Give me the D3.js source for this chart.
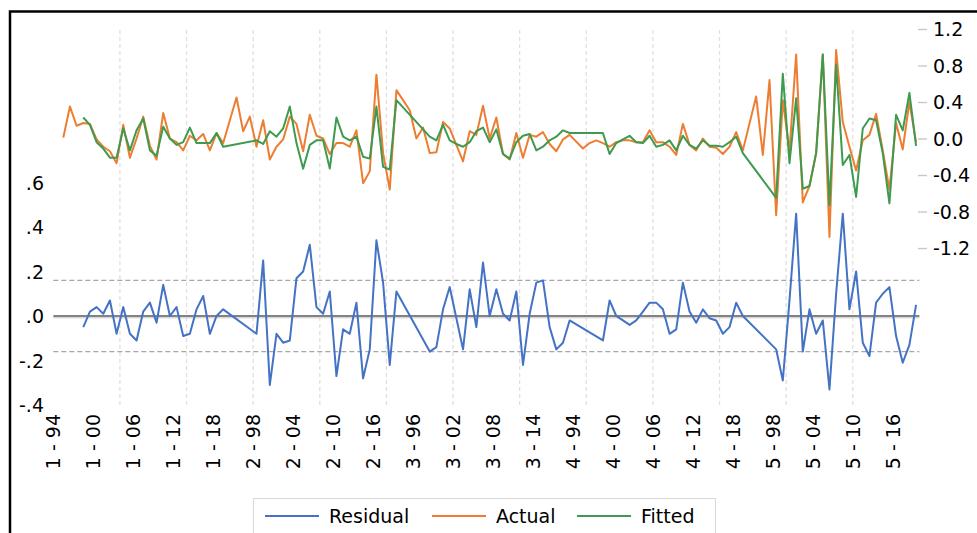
<!DOCTYPE html>
<html>
<head>
<meta charset="utf-8">
<script src="https://cdn.jsdelivr.net/npm/d3@7"></script>
<style>
body { margin: 0; background: #fff; }
svg { display: block; font-family: "DejaVu Sans", sans-serif; }
</style>
</head>
<body>
<script>
const w = 977;
const h = 533;

// panel: 5 cross-sections, years 1994-2019
const groups = ["1", "2", "3", "4", "5"];
const years = ["94","95","96","97","98","99","00","01","02","03","04","05","06",
               "07","08","09","10","11","12","13","14","15","16","17","18","19"];

const actual = [
  null, 0.01, 0.35, 0.14, 0.17, 0.16, -0.01, -0.09, -0.14, -0.27,
  0.15, -0.21, 0.00, 0.24, -0.08, -0.23, 0.28, 0.00, -0.04, -0.13,
  0.03, -0.02, 0.05, -0.13, 0.06, -0.05,
  null, 0.45, 0.08, 0.24, -0.09, 0.20, -0.23, -0.09, -0.01, 0.24,
  0.16, -0.14, 0.26, 0.03, 0.00, -0.17, -0.05, -0.05, -0.09, 0.09,
  -0.49, -0.36, 0.70, -0.16, -0.56, 0.53,
  null, 0.31, 0.00, 0.12, -0.16, -0.15, 0.18, 0.11, -0.07, -0.25,
  0.08, 0.04, 0.36, 0.00, 0.23, -0.17, -0.23, 0.06, -0.21, 0.04,
  0.02, 0.07, -0.06, -0.14, -0.01, 0.04,
  null, -0.11, -0.05, -0.02, -0.05, -0.09, -0.04, -0.02, -0.02, -0.04,
  -0.04, 0.09, -0.04, -0.04, -0.09, -0.18, 0.16, -0.07, -0.13, 0.00,
  -0.09, -0.10, -0.17, -0.09, 0.07, -0.13,
  null, 0.46, -0.18, 0.64, -0.84, 0.42, -0.14, 0.92, -0.70, -0.52,
  -0.16, 0.92, -1.08, 0.97, 0.18, -0.09, -0.35, -0.02, 0.04, 0.27,
  -0.13, -0.56, 0.17, -0.12, 0.40, -0.04
];

const fitted = [
  null, null, null, null, 0.23, 0.15, -0.04, -0.11, -0.21, -0.21,
  0.11, -0.13, 0.09, 0.22, -0.13, -0.19, 0.13, 0.00, -0.07, -0.04,
  0.12, -0.05, -0.05, -0.05, 0.06, -0.09,
  null, null, null, null, -0.02, -0.06, 0.08, 0.02, 0.11, 0.35,
  -0.05, -0.33, -0.07, -0.02, -0.02, -0.33, 0.23, 0.02, -0.02, 0.02,
  -0.20, -0.22, 0.35, -0.31, -0.34, 0.42,
  null, null, null, null, 0.02, -0.02, 0.15, -0.02, -0.06, -0.09,
  -0.04, 0.08, 0.12, -0.04, 0.10, -0.17, -0.22, -0.04, 0.03, 0.05,
  -0.13, -0.09, -0.02, 0.02, 0.09, 0.06,
  null, null, null, null, 0.06, -0.17, -0.05, -0.01, 0.03, -0.04,
  -0.05, 0.03, -0.09, -0.07, -0.02, -0.13, 0.03, -0.07, -0.11, -0.02,
  -0.08, -0.08, -0.09, -0.04, 0.02, -0.16,
  null, null, null, null, -0.65, 0.71, -0.27, 0.44, -0.55, -0.52,
  -0.16, 0.92, -0.73, 0.81, -0.29, -0.18, -0.64, 0.11, 0.22, 0.20,
  -0.16, -0.71, 0.26, 0.09, 0.50, -0.08
];

const residual = [
  null, null, null, null, -0.05, 0.02, 0.04, 0.01, 0.07, -0.08,
  0.04, -0.08, -0.11, 0.02, 0.06, -0.03, 0.14, 0.00, 0.04, -0.09,
  -0.08, 0.03, 0.09, -0.08, 0.00, 0.03,
  null, null, null, null, -0.08, 0.25, -0.31, -0.08, -0.12, -0.11,
  0.17, 0.20, 0.32, 0.04, 0.01, 0.11, -0.27, -0.06, -0.08, 0.06,
  -0.28, -0.15, 0.34, 0.15, -0.22, 0.11,
  null, null, null, null, -0.16, -0.14, 0.03, 0.13, -0.01, -0.15,
  0.12, -0.05, 0.24, 0.00, 0.12, 0.01, -0.02, 0.11, -0.22, 0.01,
  0.15, 0.16, -0.05, -0.15, -0.12, -0.02,
  null, null, null, null, -0.11, 0.07, 0.00, -0.02, -0.04, -0.02,
  0.02, 0.06, 0.06, 0.03, -0.08, -0.06, 0.15, 0.02, -0.03, 0.03,
  -0.01, -0.02, -0.08, -0.05, 0.06, 0.00,
  null, null, null, null, -0.15, -0.29, 0.07, 0.46, -0.16, 0.03,
  -0.08, -0.02, -0.33, 0.10, 0.46, 0.03, 0.20, -0.12, -0.18, 0.06,
  0.10, 0.13, -0.09, -0.21, -0.13, 0.05
];

const leftTicks = [-0.4, -0.2, 0, 0.2, 0.4, 0.6];
const rightTicks = [-1.2, -0.8, -0.4, 0, 0.4, 0.8, 1.2];
const residualSE = 0.16;
const seriesNames = ["Residual", "Actual", "Fitted"];
const seriesColors = ["#4472C4", "#ED7D31", "#3E9A4E"];

let categories = [];
groups.forEach(g => years.forEach(y => categories.push(g + " - " + y)));

let svg = d3.select("body")
            .append("svg")
                .attr("width", w)
                .attr("height", h);

const plot = {left: 53.3, right: 919.4, top: 29, bottom: 405};

let x = d3.scaleBand()
    .domain(categories)
    .range([plot.left, plot.right])
    .paddingInner(0);
const cx = (c) => x(c) + x.bandwidth() / 2;

let yL = d3.scaleLinear()
    .domain([-0.4, 1.29])
    .range([plot.bottom, plot.top]);

let yR = d3.scaleLinear()
    .domain([-2.92, 1.2])
    .range([plot.bottom, plot.top]);

// frame
svg.append("path")
    .attr("d", `M10,${h + 5}V11.5H${w + 5}`)
    .attr("fill", "none")
    .attr("stroke", "#000")
    .attr("stroke-width", 2.5);

// vertical gridlines every 10 categories
svg.append("g")
    .selectAll("line")
    .data(categories.filter((c, i) => i > 0 && i % 10 == 0))
    .enter()
    .append("line")
    .attr("x1", (d) => x(d))
    .attr("x2", (d) => x(d))
    .attr("y1", plot.top + 1)
    .attr("y2", plot.bottom)
    .attr("stroke", "#e0e0e0")
    .attr("stroke-width", 1.3)
    .attr("stroke-dasharray", "4,3");

// residual reference lines
svg.append("line")
    .attr("x1", plot.left).attr("x2", plot.right)
    .attr("y1", yL(0) + 1.8).attr("y2", yL(0) + 1.8)
    .attr("stroke", "#d9d9d9")
    .attr("stroke-width", 1.6);
svg.append("line")
    .attr("x1", plot.left).attr("x2", plot.right)
    .attr("y1", yL(0)).attr("y2", yL(0))
    .attr("stroke", "#595959")
    .attr("stroke-width", 1.3);
[residualSE, -residualSE].forEach(v => {
    svg.append("line")
        .attr("x1", plot.left).attr("x2", plot.right)
        .attr("y1", yL(v)).attr("y2", yL(v))
        .attr("stroke", "#a6a6a6")
        .attr("stroke-width", 1.4)
        .attr("stroke-dasharray", "5,3");
});

// left axis (plain hyphen minus, leading zero dropped)
let leftAxis = svg.append("g")
    .attr("transform", "translate(44,0)")
    .call(d3.axisLeft(yL)
        .tickValues(leftTicks)
        .tickSize(0)
        .tickPadding(0)
        .tickFormat((d) => d.toFixed(1).replace("0.", ".")));
leftAxis.select(".domain").remove();
leftAxis.selectAll("text")
    .attr("font-size", 19)
    .attr("font-family", "DejaVu Sans")
    .attr("fill", "#000")
    .attr("dy", "0.36em");

// right axis
let rightAxis = svg.append("g")
    .attr("transform", "translate(918,0)")
    .call(d3.axisRight(yR)
        .tickValues(rightTicks)
        .tickSize(9)
        .tickPadding(6)
        .tickFormat((d) => d.toFixed(1)));
rightAxis.select(".domain").remove();
rightAxis.selectAll("line")
    .attr("stroke", "#c8c8c8")
    .attr("stroke-width", 1.4);
rightAxis.selectAll("text")
    .attr("font-size", 19)
    .attr("font-family", "DejaVu Sans")
    .attr("fill", "#000")
    .attr("dy", "0.36em");

// category labels, every 6th
let xAxis = svg.append("g")
    .attr("transform", "translate(0,414)")
    .call(d3.axisBottom(x)
        .tickValues(categories.filter((c, i) => i % 6 == 0))
        .tickSize(0));
xAxis.select(".domain").remove();
xAxis.selectAll("text")
    .attr("font-size", 19)
    .attr("font-family", "DejaVu Sans")
    .attr("fill", "#000")
    .attr("text-anchor", "end")
    .attr("transform", "rotate(-90)")
    .attr("x", 0)
    .attr("y", -3.3)
    .attr("dy", "0.36em");

// series
function points(values) {
    return categories
        .map((c, i) => ({c: c, v: values[i]}))
        .filter((d) => d.v != null);
}

let lineL = d3.line().x((d) => cx(d.c)).y((d) => yL(d.v));
let lineR = d3.line().x((d) => cx(d.c)).y((d) => yR(d.v));

svg.append("path")
    .datum(points(residual))
    .attr("d", lineL)
    .attr("fill", "none")
    .attr("stroke", seriesColors[0])
    .attr("stroke-width", 2)
    .attr("stroke-linejoin", "round");

svg.append("path")
    .datum(points(actual))
    .attr("d", lineR)
    .attr("fill", "none")
    .attr("stroke", seriesColors[1])
    .attr("stroke-width", 2)
    .attr("stroke-linejoin", "round");

svg.append("path")
    .datum(points(fitted))
    .attr("d", lineR)
    .attr("fill", "none")
    .attr("stroke", seriesColors[2])
    .attr("stroke-width", 2)
    .attr("stroke-linejoin", "round");

// legend
let legend = svg.append("g");
legend.append("rect")
    .attr("x", 253.5)
    .attr("y", 498.5)
    .attr("width", 462)
    .attr("height", 60)
    .attr("fill", "#fff")
    .attr("stroke", "#d9d9d9");

const legendX = [265, 432, 577];
seriesNames.forEach((name, i) => {
    legend.append("line")
        .attr("x1", legendX[i]).attr("x2", legendX[i] + 54)
        .attr("y1", 516).attr("y2", 516)
        .attr("stroke", seriesColors[i])
        .attr("stroke-width", 2);
    legend.append("text")
        .attr("x", legendX[i] + 64)
        .attr("y", 523)
        .attr("font-size", 19)
        .attr("fill", "#000")
        .text(name);
});
</script>
</body>
</html>
